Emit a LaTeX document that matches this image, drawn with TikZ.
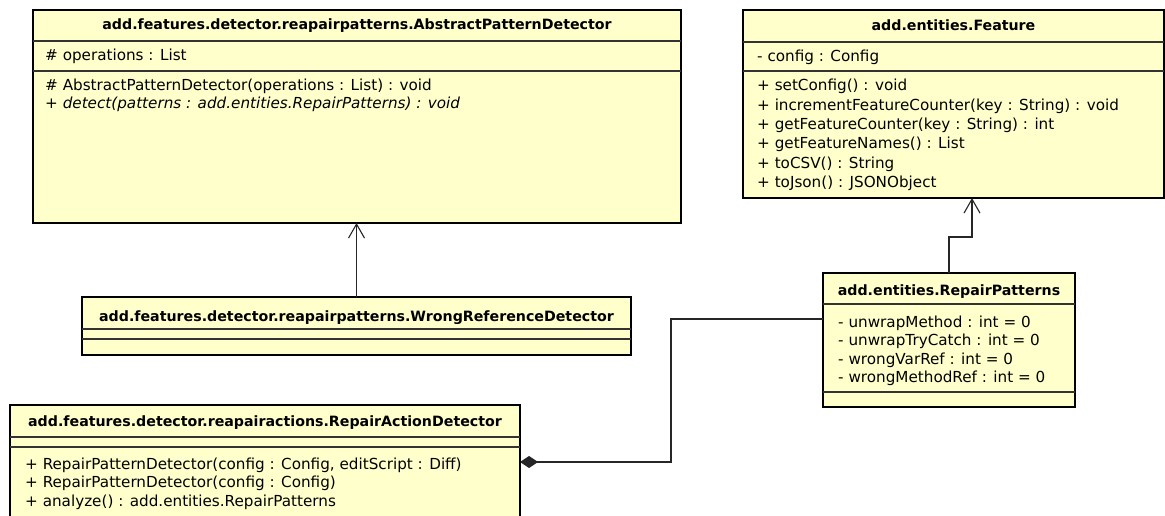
\documentclass[tikz,border=0pt]{standalone}
\usepackage{fontspec}
\setmainfont{DejaVu Sans}
\usetikzlibrary{arrows.meta}
\definecolor{classfill}{RGB}{255,255,204}
\tikzset{
 classbox/.style={draw=black, line width=2.5pt, fill=classfill, inner sep=0pt, outer sep=0pt, anchor=north west},
 sepline/.style={draw=black!80, line width=1.2pt},
 hdr/.style={font=\fontsize{14.2}{16}\selectfont\bfseries, inner sep=0pt, anchor=base},
 mem/.style={font=\fontsize{15.2}{18}\selectfont, inner sep=0pt, anchor=base west},
 memit/.style={mem, font=\fontsize{15.2}{18}\selectfont\itshape},
 link/.style={draw=black!85, line width=1.1pt},
 inherit/.style={link, -{Straight Barb[length=14pt,width=16pt,line width=1.1pt]}},
 compo/.style={link, {Diamond[length=18pt,width=12pt]}-},
}
\begin{document}
\begin{tikzpicture}[x=1pt,y=-1pt]
\useasboundingbox (0,0) rectangle (1165,516);
\clip (0,0) rectangle (1165,516);
\fill[white] (0,0) rectangle (1165,516);

% AbstractPatternDetector
\node[classbox, minimum width=648pt, minimum height=213pt] (apd) at (33,10) {};
\draw[sepline] (33,41) -- (681,41);
\draw[sepline] (33,71) -- (681,71);
\node[hdr] (apdname) at (357,30) {add.features.detector.reapairpatterns.AbstractPatternDetector};
\node[mem] (apda1) at (45,61) {\# operations : List};
\node[mem] (apdm1) at (45,91) {\# AbstractPatternDetector(operations : List) : void};
\node[memit] (apdm2) at (45,109) {+ detect(patterns : add.entities.RepairPatterns) : void};

% Feature
\node[classbox, minimum width=421pt, minimum height=188pt] (feat) at (743,10) {};
\draw[sepline] (743,42) -- (1164,42);
\draw[sepline] (743,71) -- (1164,71);
\node[hdr] (featname) at (953.5,31) {add.entities.Feature};
\node[mem] (feata1) at (757,62) {- config : Config};
\node[mem] (featm1) at (757,91) {+ setConfig() : void};
\node[mem] (featm2) at (757,111) {+ incrementFeatureCounter(key : String) : void};
\node[mem] (featm3) at (757,130) {+ getFeatureCounter(key : String) : int};
\node[mem] (featm4) at (757,149) {+ getFeatureNames() : List};
\node[mem] (featm5) at (757,168) {+ toCSV() : String};
\node[mem] (featm6) at (757,187) {+ toJson() : JSONObject};

% WrongReferenceDetector
\node[classbox, minimum width=549pt, minimum height=58pt] (wrd) at (82,297) {};
\draw[sepline] (82,329) -- (631,329);
\draw[sepline] (82,339) -- (631,339);
\node[hdr] (wrdname) at (356.5,321) {add.features.detector.reapairpatterns.WrongReferenceDetector};

% RepairPatterns
\node[classbox, minimum width=252pt, minimum height=134pt] (rp) at (823,273) {};
\draw[sepline] (823,304) -- (1075,304);
\draw[sepline] (823,392) -- (1075,392);
\node[hdr] (rpname) at (949,295) {add.entities.RepairPatterns};
\node[mem] (rpa1) at (838,327) {- unwrapMethod : int = 0};
\node[mem] (rpa2) at (838,345.5) {- unwrapTryCatch : int = 0};
\node[mem] (rpa3) at (838,364) {- wrongVarRef : int = 0};
\node[mem] (rpa4) at (838,382.5) {- wrongMethodRef : int = 0};

% RepairActionDetector
\node[classbox, minimum width=510pt, minimum height=140pt] (rad) at (10,405) {};
\draw[sepline] (10,437) -- (520,437);
\draw[sepline] (10,447) -- (520,447);
\node[hdr] (radname) at (265,426) {add.features.detector.reapairactions.RepairActionDetector};
\node[mem] (radm1) at (25,469) {+ RepairPatternDetector(config : Config, editScript : Diff)};
\node[mem] (radm2) at (25,487.5) {+ RepairPatternDetector(config : Config)};
\node[mem] (radm3) at (25,506) {+ analyze() : add.entities.RepairPatterns};

% connectors
\draw[inherit] (wrd.north) -- (wrd.north |- apd.south);
\draw[inherit] (rp.north) -- ++(0,-36) -| ([xshift=18.5pt]feat.south);
\draw[compo] ([yshift=13pt]rad.east) -- ++(151,0) |- ([yshift=21pt]rp.west);
\end{tikzpicture}
\end{document}
